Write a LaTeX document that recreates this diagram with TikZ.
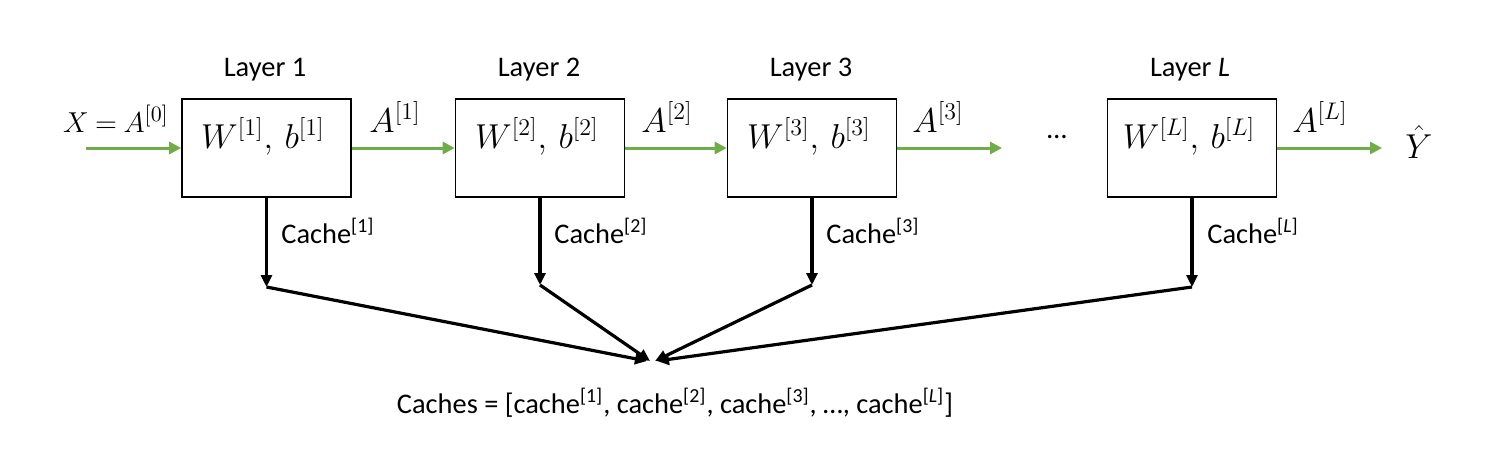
\documentclass[tikz,border=0pt]{standalone}
\usepackage{fontspec}
\setmainfont{Carlito}
\usetikzlibrary{arrows.meta}
\definecolor{fwdgreen}{HTML}{70AD47}
\begin{document}
\begin{tikzpicture}[x=0.5pt,y=-0.5pt,
  layerbox/.style={draw=black,line width=0.8pt,minimum width=84.5pt,minimum height=49pt,inner sep=0pt},
  txt/.style={font=\fontsize{14.2}{17}\selectfont,inner sep=0pt},
  mth/.style={font=\fontsize{16.5}{19}\selectfont,inner sep=0pt},
  boxmth/.style={font=\fontsize{17.5}{20}\selectfont,inner sep=0pt},
  fwd/.style={draw=fwdgreen,line width=1.5pt,-{Triangle[length=6pt,width=6pt]}},
  cacheline/.style={draw=black,line width=1.6pt,-{Triangle[length=6pt,width=5.5pt]}}]
\useasboundingbox (0,0) rectangle (1500,450);
% boxes
\node[layerbox] (b1) at (266.5,148) {};
\node[layerbox] (b2) at (540,148) {};
\node[layerbox] (b3) at (812,148) {};
\node[layerbox] (bL) at (1192,148) {};
% box texts
\node[boxmth,anchor=base] (w1) at (263,148) {$W^{[1]},\, b^{[1]}$};
\node[boxmth,anchor=base] (w2) at (537,148) {$W^{[2]},\, b^{[2]}$};
\node[boxmth,anchor=base] (w3) at (809,148) {$W^{[3]},\, b^{[3]}$};
\node[boxmth,anchor=base] (wL) at (1189,148) {$W^{[L]},\, b^{[L]}$};
% layer titles
\node[txt,anchor=base] (l1) at (265,76) {Layer 1};
\node[txt,anchor=base] (l2) at (539,76) {Layer 2};
\node[txt,anchor=base] (l3) at (811,76) {Layer 3};
\node[txt,anchor=base] (lL) at (1190,76) {Layer \textit{L}};
% forward arrows
\coordinate (in0) at (86,148);
\coordinate (o3) at (1002,148);
\coordinate (oL) at (1382,148);
\draw[fwd] (in0) -- (b1.west);
\draw[fwd] (b1.east) -- (b2.west);
\draw[fwd] (b2.east) -- (b3.west);
\draw[fwd] (b3.east) -- (o3);
\draw[fwd] (bL.east) -- (oL);
% activation labels
\node[font=\fontsize{15.5}{18}\selectfont,inner sep=0pt,anchor=base] (x0) at (116,132) {$X\mkern4mu{=}\mkern4mu A^{[0]}$};
\node[mth,anchor=base] (a1) at (395,132) {$A^{[1]}$};
\node[mth,anchor=base] (a2) at (667,132) {$A^{[2]}$};
\node[mth,anchor=base] (a3) at (938,132) {$A^{[3]}$};
\node[mth,anchor=base] (aL) at (1320,132) {$A^{[L]}$};
\node[mth,anchor=base] (yh) at (1419,158) {$\hat{Y}$};
\node[txt,anchor=base] (dots) at (1057,138) {\ldots};
% cache arrows
\coordinate (c1) at (266.5,287);
\coordinate (c2) at (540,285);
\coordinate (c3) at (812,285);
\coordinate (cL) at (1192,287);
\coordinate (m1) at (647,361);
\coordinate (m2) at (650,361);
\coordinate (m3) at (655,361);
\coordinate (m4) at (657,361);
\draw[cacheline] (b1.south) -- (c1);
\draw[cacheline] (b2.south) -- (c2);
\draw[cacheline] (b3.south) -- (c3);
\draw[cacheline] (bL.south) -- (cL);
\draw[cacheline] (c1) -- (m1);
\draw[cacheline] (c2) -- (m2);
\draw[cacheline] (c3) -- (m3);
\draw[cacheline] (cL) -- (m4);
% cache labels
\node[txt,anchor=base west] (k1) at (281,243) {Cache\textsuperscript{[1]}};
\node[txt,anchor=base west] (k2) at (554,243) {Cache\textsuperscript{[2]}};
\node[txt,anchor=base west] (k3) at (826,243) {Cache\textsuperscript{[3]}};
\node[txt,anchor=base west] (kL) at (1207,243) {Cache\textsuperscript{[\textit{L}]}};
% bottom
\node[txt,anchor=base] (all) at (675,413) {Caches = [cache\textsuperscript{[1]}, cache\textsuperscript{[2]}, cache\textsuperscript{[3]}, \ldots, cache\textsuperscript{[\textit{L}]}]};
\end{tikzpicture}
\end{document}
